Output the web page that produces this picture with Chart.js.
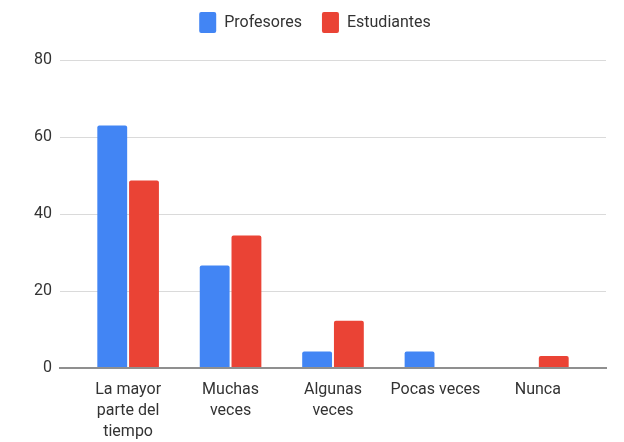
<!DOCTYPE html>
<html>
<head>
<meta charset="utf-8">
<script src="https://cdn.jsdelivr.net/npm/chart.js@4"></script>
<style>
    html, body { margin: 0; padding: 0; background: #fff; }
    #wrap { width: 624px; height: 442px; }
</style>
</head>
<body>
<div id="wrap"><canvas id="chart" width="624" height="442"></canvas></div>
<script>
// Categories (already wrapped the way the reference shows them)
const categories = [
    ['La mayor', 'parte del', 'tiempo'],
    ['Muchas', 'veces'],
    ['Algunas', 'veces'],
    ['Pocas veces'],
    ['Nunca']
];
const seriesNames = ['Profesores', 'Estudiantes'];
const profesores = [63, 26.6, 4.3, 4.3, 0];
const estudiantes = [48.7, 34.4, 12.3, 0, 3.1];
const yTicks = [0, 20, 40, 60, 80];

const colors = ['#4285F4', '#EA4335'];

function toPoints(values) {
    return values.map(function (v, i) { return { x: i, y: v }; });
}

// Push the plot area a bit further below the legend
const legendGap = {
    id: 'legendGap',
    beforeInit: function (chart) {
        const fit = chart.legend.fit;
        chart.legend.fit = function () {
            fit.bind(chart.legend)();
            this.height += 17;
        };
    }
};

document.addEventListener('DOMContentLoaded', function () {
    const ctx = document.getElementById('chart').getContext('2d');

    new Chart(ctx, {
        type: 'bar',
        data: {
            datasets: [{
                label: seriesNames[0],
                data: toPoints(profesores),
                backgroundColor: colors[0],
                borderRadius: 2,
                borderSkipped: 'bottom'
            }, {
                label: seriesNames[1],
                data: toPoints(estudiantes),
                backgroundColor: colors[1],
                borderRadius: 2,
                borderSkipped: 'bottom'
            }]
        },
        plugins: [legendGap],
        options: {
            responsive: false,
            animation: false,
            categoryPercentage: 0.62,
            barPercentage: 0.94,
            layout: {
                padding: { left: 24, right: 18, top: -8, bottom: 0 }
            },
            plugins: {
                tooltip: { enabled: false },
                legend: {
                    position: 'top',
                    labels: {
                        font: { family: 'Roboto', size: 16 },
                        color: '#333',
                        boxWidth: 17,
                        boxHeight: 21,
                        useBorderRadius: true,
                        borderRadius: 2,
                        padding: 20
                    }
                }
            },
            scales: {
                x: {
                    type: 'linear',
                    offset: false,
                    bounds: 'data',
                    min: -0.665,
                    max: categories.length - 1 + 0.665,
                    afterBuildTicks: function (scale) {
                        scale.ticks = categories.map(function (c, i) { return { value: i }; });
                    },
                    afterFit: function (scale) {
                        scale.height = 74;
                    },
                    grid: { display: false, drawTicks: false },
                    border: { display: true, color: '#8f8f8f', width: 2 },
                    ticks: {
                        autoSkip: false,
                        maxRotation: 0,
                        padding: 12,
                        color: '#333',
                        font: { family: 'Roboto', size: 16, lineHeight: 1.3 },
                        callback: function (value) {
                            return categories[value] || '';
                        }
                    }
                },
                y: {
                    min: yTicks[0],
                    max: yTicks[yTicks.length - 1],
                    afterBuildTicks: function (scale) {
                        scale.ticks = yTicks.map(function (v) { return { value: v }; });
                    },
                    afterFit: function (scale) {
                        scale.width = 36;
                    },
                    border: { display: false },
                    grid: {
                        drawTicks: false,
                        color: function (c) { return c.tick && c.tick.value === 0 ? '#8f8f8f' : '#dadada'; },
                        lineWidth: function (c) { return c.tick && c.tick.value === 0 ? 2 : 1; }
                    },
                    ticks: {
                        padding: 8,
                        color: '#333',
                        font: { family: 'Roboto', size: 16 }
                    }
                }
            }
        }
    });
});
</script>
</body>
</html>
